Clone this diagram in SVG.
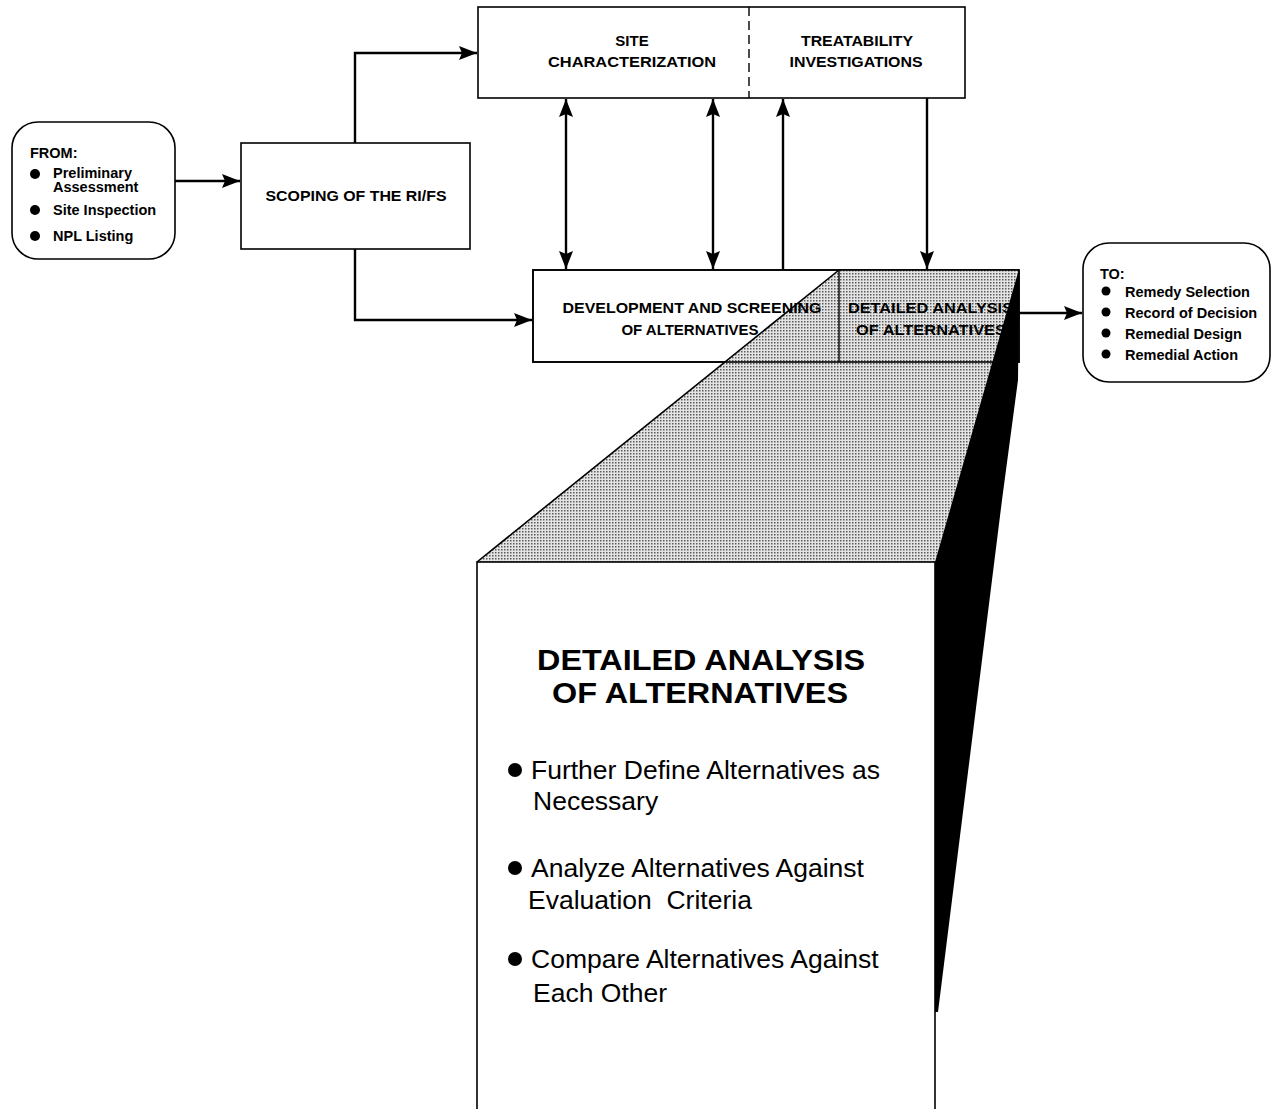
<svg xmlns="http://www.w3.org/2000/svg" width="1278" height="1109" viewBox="0 0 1278 1109">
<defs>
<style>
.box{fill:#fff;stroke:#000;stroke-width:1.6}
.ln{fill:none;stroke:#000;stroke-width:2.4}
.sm{font-family:"Liberation Sans",Arial,sans-serif;font-weight:bold;font-size:14.5px;fill:#000}
.lab{font-family:"Liberation Sans",Arial,sans-serif;font-weight:bold;font-size:15px;fill:#000;text-anchor:middle}
.big{font-family:"Liberation Sans",Arial,sans-serif;font-weight:bold;font-size:29px;fill:#000;text-anchor:middle}
.bul{font-family:"Liberation Sans",Arial,sans-serif;font-size:26.5px;fill:#000}
</style>
<pattern id="stip" width="3" height="3" patternUnits="userSpaceOnUse">
<rect width="3" height="3" fill="#e4e4e4"/>
<rect width="1.5" height="1.5" fill="#5a5a5a"/>
</pattern>
<marker id="ah" viewBox="0 0 18 14" refX="18" refY="7" markerWidth="18" markerHeight="14" markerUnits="userSpaceOnUse" orient="auto-start-reverse">
<path d="M0,0 L18,7 L0,14 L3,7 z" fill="#000"/>
</marker>
</defs>

<g id="from-node">
<rect class="box" x="12" y="122" width="163" height="137" rx="26"/>
<text class="sm" x="30" y="158">FROM:</text>
<circle cx="35" cy="174" r="5"/>
<text class="sm" x="53" y="178">Preliminary</text>
<text class="sm" x="53" y="192">Assessment</text>
<circle cx="35" cy="210" r="5"/>
<text class="sm" x="53" y="215">Site Inspection</text>
<circle cx="35" cy="236" r="5"/>
<text class="sm" x="53" y="241">NPL Listing</text>
</g>

<g id="scoping-node">
<rect class="box" x="241" y="143" width="229" height="106"/>
<text class="lab" x="356" y="201" textLength="181" lengthAdjust="spacingAndGlyphs">SCOPING OF THE RI/FS</text>
</g>

<g id="site-node">
<rect class="box" x="478" y="7" width="487" height="91"/>
<line x1="749" y1="7" x2="749" y2="98" stroke="#000" stroke-width="1.4" stroke-dasharray="9,5"/>
<text class="lab" x="632" y="46">SITE</text>
<text class="lab" x="632" y="67" textLength="168" lengthAdjust="spacingAndGlyphs">CHARACTERIZATION</text>
<text class="lab" x="857" y="46" textLength="112" lengthAdjust="spacingAndGlyphs">TREATABILITY</text>
<text class="lab" x="856" y="67" textLength="133" lengthAdjust="spacingAndGlyphs">INVESTIGATIONS</text>
</g>

<g id="dev-node">
<rect class="box" x="533" y="270" width="486" height="92"/>
</g>

<g id="detailed-block">
<polygon points="839,270 1019,270 935,562 477,562" fill="url(#stip)"/>
<line x1="839" y1="270" x2="477" y2="562" stroke="#000" stroke-width="1.6"/>
<rect x="533" y="270" width="486" height="92" fill="none" stroke="#000" stroke-width="1.6"/>
<line x1="839" y1="270" x2="839" y2="362" stroke="#000" stroke-width="1.4"/>
<text class="lab" x="692" y="313" font-size="16" textLength="259" lengthAdjust="spacingAndGlyphs">DEVELOPMENT AND SCREENING</text>
<text class="lab" x="690" y="335" font-size="16">OF ALTERNATIVES</text>
<text class="sm" x="848" y="313" font-size="15" textLength="165" lengthAdjust="spacingAndGlyphs">DETAILED ANALYSIS</text>
<text class="sm" x="856" y="335" font-size="15" textLength="150" lengthAdjust="spacingAndGlyphs">OF ALTERNATIVES</text>
<polygon points="1019,269 1018,380 1002,500 938,1012 935,1012 935,562" fill="#000"/>
<rect x="477" y="562" width="458" height="560" fill="#fff" stroke="#000" stroke-width="1.6"/>
<text class="big" x="701" y="670" textLength="328" lengthAdjust="spacingAndGlyphs">DETAILED ANALYSIS</text>
<text class="big" x="700" y="703" textLength="296" lengthAdjust="spacingAndGlyphs">OF ALTERNATIVES</text>
<circle cx="515" cy="770" r="7"/>
<text class="bul" x="531" y="779">Further Define Alternatives as</text>
<text class="bul" x="533" y="810">Necessary</text>
<circle cx="515" cy="868" r="7"/>
<text class="bul" x="531" y="877">Analyze Alternatives Against</text>
<text class="bul" x="528" y="909" xml:space="preserve">Evaluation  Criteria</text>
<circle cx="515" cy="959" r="7"/>
<text class="bul" x="531" y="968">Compare Alternatives Against</text>
<text class="bul" x="533" y="1002">Each Other</text>
</g>

<g id="to-node">
<rect class="box" x="1083" y="243" width="187" height="139" rx="26"/>
<text class="sm" x="1100" y="279">TO:</text>
<circle cx="1106" cy="291" r="4.5"/>
<text class="sm" x="1125" y="297">Remedy Selection</text>
<circle cx="1106" cy="312" r="4.5"/>
<text class="sm" x="1125" y="318">Record of Decision</text>
<circle cx="1106" cy="333" r="4.5"/>
<text class="sm" x="1125" y="339">Remedial Design</text>
<circle cx="1106" cy="354" r="4.5"/>
<text class="sm" x="1125" y="360">Remedial Action</text>
</g>

<g id="connectors">
<line class="ln" x1="175" y1="181" x2="240" y2="181" marker-end="url(#ah)"/>
<path class="ln" d="M355,143 V53 H477" marker-end="url(#ah)"/>
<path class="ln" d="M355,249 V320 H532" marker-end="url(#ah)"/>
<line class="ln" x1="566" y1="99" x2="566" y2="269" marker-start="url(#ah)" marker-end="url(#ah)"/>
<line class="ln" x1="713" y1="99" x2="713" y2="269" marker-start="url(#ah)" marker-end="url(#ah)"/>
<line class="ln" x1="783" y1="270" x2="783" y2="99" marker-end="url(#ah)"/>
<line class="ln" x1="927" y1="98" x2="927" y2="269" marker-end="url(#ah)"/>
<line class="ln" x1="1019" y1="313" x2="1082" y2="313" marker-end="url(#ah)"/>
</g>
</svg>
